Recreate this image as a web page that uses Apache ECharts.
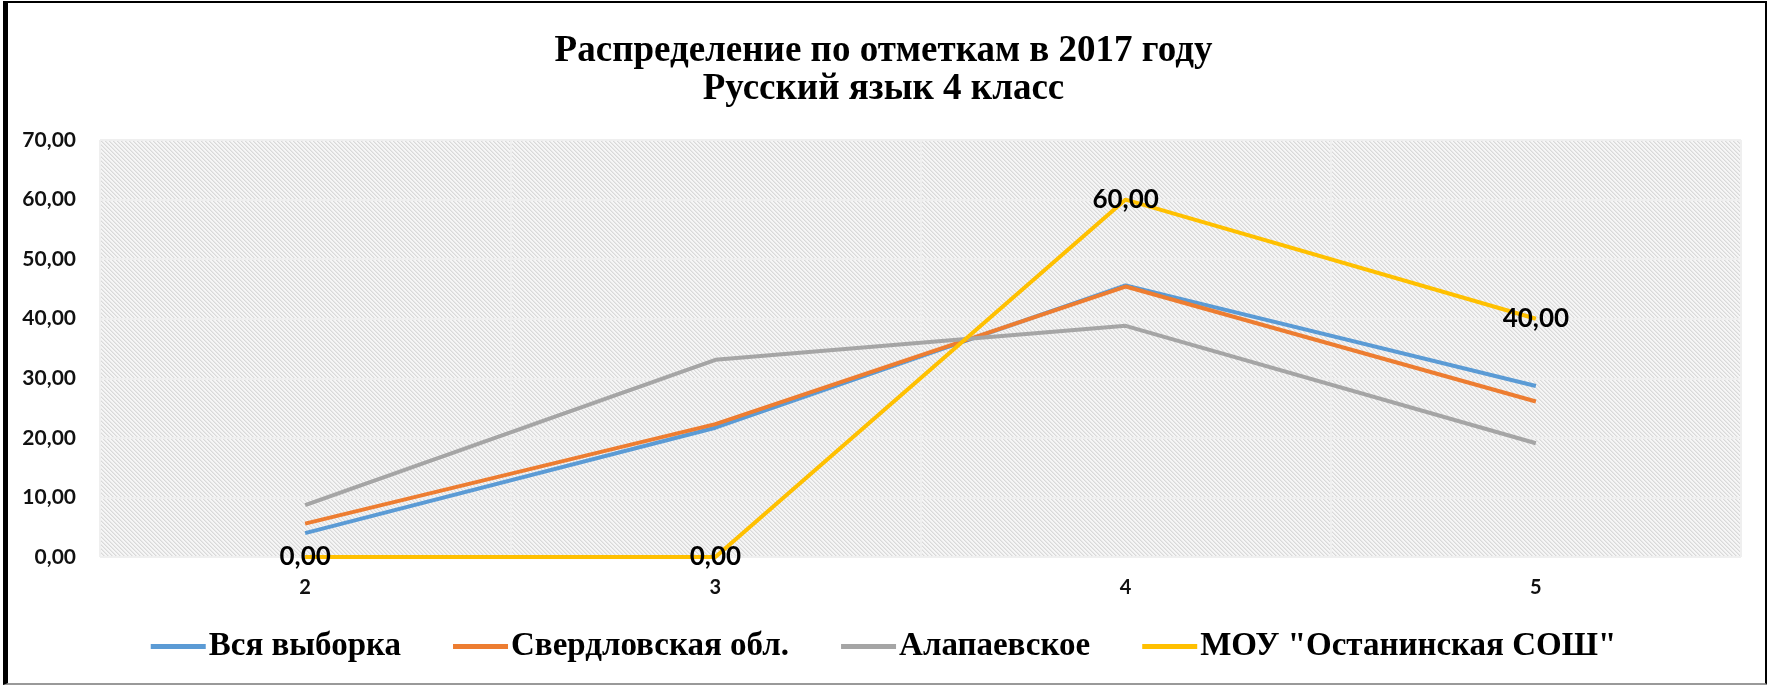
<!DOCTYPE html>
<html>
<head>
<meta charset="utf-8">
<script src="https://cdn.jsdelivr.net/npm/echarts@6/dist/echarts.min.js"></script>
<style>
  html, body { margin: 0; padding: 0; background: #fff; }
  #wrap { position: relative; width: 1767px; height: 685px; }
  #chart { position: absolute; left: 0; top: 0; width: 1767px; height: 685px; }
  #frame {
    position: absolute; left: 3px; top: 1px; width: 1757px; height: 680px;
    border-left: 5px solid #000; border-top: 2px solid #000;
    border-right: 3px solid #000; border-bottom: 2px solid #999;
    pointer-events: none;
  }
</style>
</head>
<body>
<div id="wrap">
  <div id="chart"></div>
  <div id="frame"></div>
</div>
<script>
// Grades on the x axis
const categories = ['2', '3', '4', '5'];

// Share of pupils per grade, %
const vsyaVyborka   = [4.0, 21.7, 45.6, 28.7];
const sverdlovskaya = [5.6, 22.3, 45.4, 26.1];
const alapaevskoe   = [8.7, 33.1, 38.8, 19.1];
const ostaninskaya  = [0, 0, 60, 40];

const seriesNames = ['Вся выборка', 'Свердловская обл.', 'Алапаевское', 'МОУ "Останинская СОШ"'];
const yTickLabels = ['0,00', '10,00', '20,00', '30,00', '40,00', '50,00', '60,00', '70,00'];

// Diagonal hatch used as the plot-area fill
function hatchPattern() {
  const c = document.createElement('canvas');
  c.width = 4; c.height = 4;
  const g = c.getContext('2d');
  g.fillStyle = '#f6f6f6';
  g.fillRect(0, 0, 4, 4);
  g.fillStyle = '#d9d9d9';
  for (let i = 0; i < 4; i++) g.fillRect(i, i, 1, 1);
  g.fillStyle = '#e8e8e8';
  for (let i = 0; i < 4; i++) g.fillRect((i + 1) % 4, i, 1, 1);
  return { image: c, repeat: 'repeat' };
}

const fmt = v => v.toFixed(2).replace('.', ',');

const chart = echarts.init(document.getElementById('chart'), null, { renderer: 'canvas' });

const lineSeries = (name, data, color, extra) => Object.assign({
  name, type: 'line', data,
  showSymbol: false, symbol: 'none',
  lineStyle: { color, width: 4 },
  itemStyle: { color },
  emphasis: { disabled: true }
}, extra || {});

chart.setOption({
  animation: false,
  backgroundColor: '#fff',
  title: {
    text: 'Распределение по отметкам в 2017 году\nРусский язык 4 класс',
    left: 'center', top: 32, padding: 0,
    textStyle: {
      fontFamily: '"Liberation Serif", "Times New Roman", serif',
      fontWeight: 'bold', fontSize: 37, lineHeight: 38, color: '#000'
    }
  },
  grid: {
    left: 100, right: 26, top: 140, bottom: 128,
    show: true, borderWidth: 0,
    backgroundColor: hatchPattern()
  },
  legend: {
    data: seriesNames,
    left: 'center', top: 630, padding: 0,
    icon: 'rect', itemWidth: 55, itemHeight: 5, itemGap: 52,
    textStyle: {
      fontFamily: '"Liberation Serif", "Times New Roman", serif',
      fontWeight: 'bold', fontSize: 33, color: '#000', padding: [0, 0, 0, -2]
    }
  },
  xAxis: {
    type: 'category', data: categories, boundaryGap: true,
    axisLine: { show: false },
    axisTick: { show: false },
    axisLabel: {
      margin: 21, color: '#111',
      fontFamily: 'Lato, sans-serif', fontWeight: 'bold', fontSize: 20
    },
    splitLine: { show: true, lineStyle: { color: '#efefef', width: 2 } }
  },
  yAxis: {
    type: 'value', min: 0, max: 70, interval: 10,
    axisLine: { show: false },
    axisTick: { show: false },
    axisLabel: {
      margin: 24, color: '#111',
      fontFamily: 'Lato, sans-serif', fontWeight: 'bold', fontSize: 21,
      formatter: v => yTickLabels[Math.round(v / 10)]
    },
    splitLine: { show: true, lineStyle: { color: '#efefef', width: 2 } }
  },
  series: [
    lineSeries(seriesNames[0], vsyaVyborka, '#5B9BD5'),
    lineSeries(seriesNames[1], sverdlovskaya, '#ED7D31'),
    lineSeries(seriesNames[2], alapaevskoe, '#A5A5A5'),
    lineSeries(seriesNames[3], ostaninskaya, '#FFC000', {
      showSymbol: true, symbol: 'circle', symbolSize: 1,
      z: 5,
      label: {
        show: true, position: 'inside',
        formatter: p => fmt(p.value),
        fontFamily: 'Lato, sans-serif', fontWeight: 'bold', fontSize: 26, color: '#000'
      }
    })
  ]
});
</script>
</body>
</html>
